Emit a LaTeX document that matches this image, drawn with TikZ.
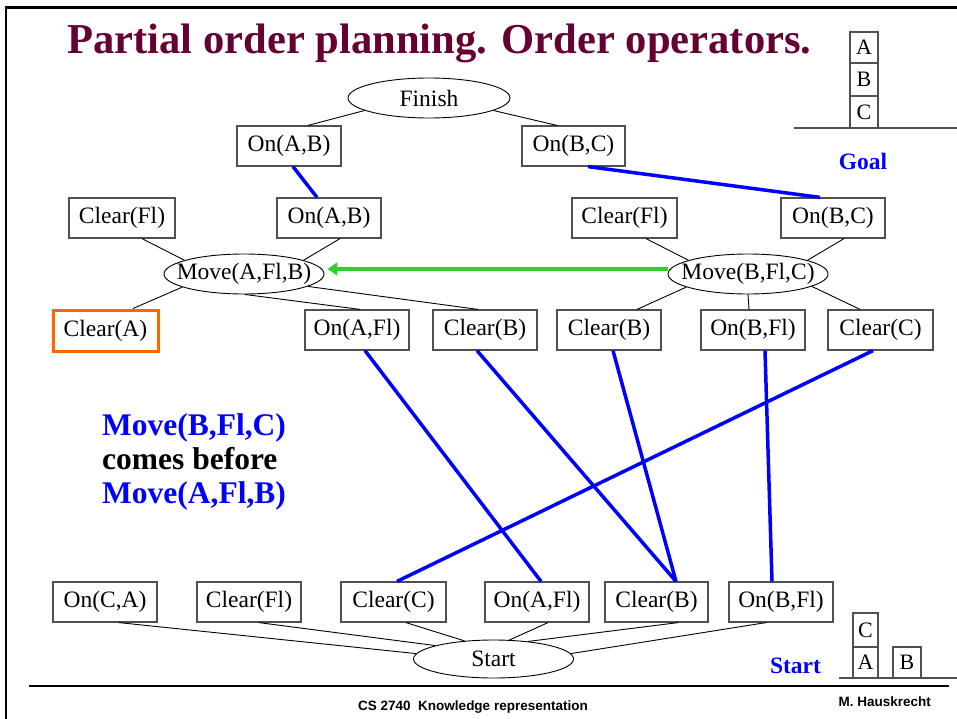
\documentclass[tikz,border=0pt]{standalone}
\usepackage{fontspec}
\setmainfont{Liberation Serif}
\newfontfamily\footfont{Liberation Sans}
\usetikzlibrary{shapes.geometric,arrows.meta}

\definecolor{titlered}{RGB}{102,0,51}
\definecolor{orderblue}{RGB}{0,0,255}
\definecolor{ordergreen}{RGB}{50,205,50}
\definecolor{framegray}{RGB}{80,80,80}
\definecolor{threatorange}{RGB}{255,102,0}

\newcommand{\boxfont}{\fontsize{23.5}{28}\selectfont}

\tikzset{
  condbox/.style={draw=framegray, line width=1.2pt, minimum width=104pt,
    minimum height=40pt, inner sep=0pt, font=\boxfont},
  opnode/.style={ellipse, draw, line width=0.9pt, minimum width=160pt,
    minimum height=40pt, inner xsep=-14pt, inner ysep=0pt, font=\boxfont},
  link/.style={line width=0.9pt},
  causal/.style={orderblue, line width=3.5pt},
  block/.style={draw=framegray, line width=1.1pt, minimum width=28pt,
    inner sep=0pt, font=\fontsize{22}{26}\selectfont},
  side/.style={anchor=base west, font=\bfseries\fontsize{31.5}{36}\selectfont},
}

\begin{document}
\begin{tikzpicture}[x=1pt, y=-1pt]
\useasboundingbox (0,0) rectangle (957,719);

% slide frame
\draw[line width=2.5pt] (6,719) -- (6,7.5) -- (957,7.5);

% title
\node[anchor=base west, text=titlered, inner sep=0pt,
      font=\bfseries\fontsize{42.6}{48}\selectfont] (title) at (67,54)
  {Partial order planning. Order operators.};

% goal state
\node[block, minimum height=31pt] (gA) at (864,47.5) {A};
\node[block, minimum height=33pt] (gB) at (864,79.5) {B};
\node[block, minimum height=32pt] (gC) at (864,112) {C};
\draw[line width=1.1pt, framegray] (794,128) -- (957,128);
\node[anchor=base, text=orderblue, inner sep=0pt,
      font=\bfseries\fontsize{23.5}{28}\selectfont] (goal) at (863,170) {Goal};

% finish and its preconditions
\node[opnode, minimum width=162pt] (finish) at (429,98) {Finish};
\node[condbox] (onAB1) at (289,146) {On(A,B)};
\node[condbox, minimum width=103pt] (onBC1) at (573.5,146) {On(B,C)};

% operator Move(A,Fl,B)
\node[condbox, minimum width=106pt] (clrFl1) at (122,218) {Clear(Fl)};
\node[condbox] (onAB2) at (329,218) {On(A,B)};
\node[opnode] (moveA) at (244,274) {Move(A,Fl,B)};
\node[condbox, minimum width=105pt, minimum height=41pt, draw=threatorange,
      line width=3pt] (clrA) at (105.5,330.5) {Clear(A)};
\node[condbox] (onAFl1) at (357,330) {On(A,Fl)};
\node[condbox] (clrB1) at (485,330) {Clear(B)};

% operator Move(B,Fl,C)
\node[condbox, minimum width=105pt] (clrFl2) at (624.5,218) {Clear(Fl)};
\node[condbox] (onBC2) at (833,218) {On(B,C)};
\node[opnode] (moveB) at (748,274) {Move(B,Fl,C)};
\node[condbox] (clrB2) at (609,330) {Clear(B)};
\node[condbox] (onBFl1) at (753,330) {On(B,Fl)};
\node[condbox, minimum width=105pt] (clrC1) at (880.5,330) {Clear(C)};

% start and its effects
\node[condbox] (onCA) at (105,602) {On(C,A)};
\node[condbox] (clrFl3) at (249,602) {Clear(Fl)};
\node[condbox, minimum width=105pt] (clrC2) at (393.5,602) {Clear(C)};
\node[condbox] (onAFl2) at (537,602) {On(A,Fl)};
\node[condbox, minimum width=103pt] (clrB3) at (656.5,602) {Clear(B)};
\node[condbox] (onBFl2) at (781,602) {On(B,Fl)};
\node[opnode, minimum height=38pt] (start) at (493.5,659) {Start};

% initial state
\node[block, minimum width=25pt, minimum height=34pt] (sC) at (865.5,630) {C};
\node[block, minimum width=25pt, minimum height=31pt] (sA) at (865.5,662.5) {A};
\node[block, minimum height=31pt] (sB) at (907,662.5) {B};
\draw[line width=1.1pt, framegray] (839,678) -- (957,678);
\node[anchor=base, text=orderblue, inner sep=0pt,
      font=\bfseries\fontsize{23.5}{28}\selectfont] (startlbl) at (795.5,673) {Start};

% plan structure links
\draw[link] (finish.191) -- ([xshift=19pt]onAB1.north);
\draw[link] (finish.349) -- ([xshift=-16.5pt]onBC1.north);

\draw[link] ([xshift=20pt]clrFl1.south) -- (moveA.167);
\draw[link] ([xshift=11pt]onAB2.south) -- (moveA.13);
\draw[link] (moveA.192) -- ([xshift=27.5pt]clrA.north);
\draw[link] (moveA.272) -- ([xshift=3pt]onAFl1.north);
\draw[link] (moveA.349) -- ([xshift=-7pt]clrB1.north);

\draw[link] ([xshift=21.5pt]clrFl2.south) -- (moveB.167);
\draw[link] ([xshift=11pt]onBC2.south) -- (moveB.13);
\draw[link] (moveB.192) -- ([xshift=28pt]clrB2.north);
\draw[link] (moveB.270) -- ([xshift=-4pt]onBFl1.north);
\draw[link] (moveB.349) -- ([xshift=-20.5pt]clrC1.north);

\draw[link] ([xshift=14pt]onCA.south) -- (start.176);
\draw[link] ([xshift=10pt]clrFl3.south) -- (start.167);
\draw[link] ([xshift=12.5pt]clrC2.south) -- (start.148);
\draw[link] ([xshift=11pt]onAFl2.south) -- (start.50);
\draw[link] ([xshift=21.5pt]clrB3.south) -- (start.27);
\draw[link] ([xshift=-15pt]onBFl2.south) -- (start.4);

% causal links
\draw[causal] ([xshift=4pt]onAB1.south) -- ([xshift=-12pt]onAB2.north);
\draw[causal] ([xshift=14.5pt]onBC1.south) -- ([xshift=-13pt]onBC2.north);
\draw[causal] ([xshift=8pt]onAFl1.south) -- ([xshift=4pt]onAFl2.north);
\draw[causal] ([xshift=-8pt]clrB1.south) -- ([xshift=19.5pt]clrB3.north);
\draw[causal] ([xshift=4pt]clrB2.south) -- ([xshift=19.5pt]clrB3.north);
\draw[causal] ([xshift=12pt]onBFl1.south) -- ([xshift=-9pt]onBFl2.north);
\draw[causal] ([xshift=-7.5pt]clrC1.south) -- ([xshift=3.5pt]clrC2.north);

% ordering constraint
\draw[ordergreen, line width=3.5pt, -{Triangle[length=10pt,width=13pt]}]
  ([yshift=5pt]moveB.west) -- ([yshift=5pt, xshift=3pt]moveA.east);

% explanation
\node[side, text=orderblue, inner sep=0pt] (ex1) at (102,435) {Move(B,Fl,C)};
\node[side, inner sep=0pt] (ex2) at (102,469) {comes before};
\node[side, text=orderblue, inner sep=0pt] (ex3) at (102,503) {Move(A,Fl,B)};

% footer
\draw[line width=1.2pt] (29,686) -- (949,686);
\node[anchor=base, inner sep=0pt, font=\footfont\bfseries\fontsize{13.5}{16}\selectfont]
  (course) at (473,710) {CS 2740\ \ Knowledge representation};
\node[anchor=base east, inner sep=0pt, font=\footfont\bfseries\fontsize{13.5}{16}\selectfont]
  (author) at (931,706) {M. Hauskrecht};
\end{tikzpicture}
\end{document}
